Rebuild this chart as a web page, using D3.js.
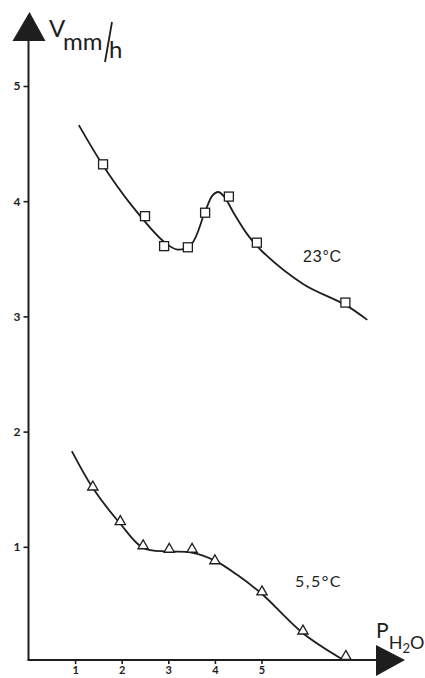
<!DOCTYPE html>
<html>
<head>
<meta charset="utf-8">
<script src="https://cdn.jsdelivr.net/npm/d3@7"></script>
<style>
  html, body { margin: 0; padding: 0; background: #fff; }
  svg { display: block; }
</style>
</head>
<body>
<svg id="chart" width="425" height="678"></svg>
<script>
// Tick values on both axes
const xTicks = [1, 2, 3, 4, 5];
const yTicks = [1, 2, 3, 4, 5];

// Measured growth rate at 23 °C (squares)
const warmX = [1.60, 2.50, 2.91, 3.42, 3.79, 4.30, 4.90, 6.80];
const warmY = [4.32, 3.87, 3.61, 3.60, 3.90, 4.04, 3.64, 3.12];
// Fitted curve for 23 °C
const warmFitX = [1.08, 1.60, 2.20, 2.90, 3.20, 3.50, 3.78, 3.95, 4.07, 4.20, 4.40, 4.70, 5.00, 5.90, 6.80, 7.27];
const warmFitY = [4.66, 4.31, 3.97, 3.65, 3.58, 3.63, 3.90, 4.05, 4.08, 4.04, 3.90, 3.71, 3.57, 3.28, 3.10, 2.97];

// Measured growth rate at 5,5 °C (triangles)
const coldX = [1.38, 1.97, 2.46, 3.02, 3.51, 4.00, 5.01, 5.89, 6.81];
const coldY = [1.51, 1.21, 1.00, 0.97, 0.97, 0.87, 0.60, 0.26, 0.04];
// Fitted curve for 5,5 °C
const coldFitX = [0.93, 1.38, 1.97, 2.46, 3.00, 3.50, 4.00, 4.50, 5.01, 5.89, 6.75];
const coldFitY = [1.83, 1.51, 1.20, 0.99, 0.96, 0.95, 0.88, 0.75, 0.59, 0.25, 0.02];

const ink = "#1e1e1e";
const font = "Lato, 'DejaVu Sans', sans-serif";
const svg = d3.select("#chart");

const x = d3.scaleLinear().domain([0, 8]).range([28.5, 28.5 + 8 * 46.6]);
const y = d3.scaleLinear().domain([0, 5]).range([662, 86]);

const x0 = x(0), y0 = y(0) - 2;

// Axis lines
svg.append("line").attr("x1", x0).attr("y1", y0).attr("x2", x0).attr("y2", 40)
  .attr("stroke", ink).attr("stroke-width", 2);
svg.append("line").attr("x1", x0 - 1).attr("y1", y0).attr("x2", 378).attr("y2", y0)
  .attr("stroke", ink).attr("stroke-width", 2);

// Arrow heads
svg.append("path").attr("d", `M${x0 - 16},41 L${x0 + 17},41 L${x0 + 1},12 Z`).attr("fill", ink);
svg.append("path").attr("d", `M376,645 L376,676 L405,${y0} Z`).attr("fill", ink);

// Y axis ticks
const yAxis = d3.axisLeft(y).tickValues(yTicks).tickSize(5).tickPadding(3).tickFormat(d3.format("d"));
const gy = svg.append("g").attr("transform", `translate(${x0},0)`).call(yAxis);
gy.select(".domain").remove();
gy.selectAll("line").attr("stroke", ink).attr("stroke-width", 1.6);
gy.selectAll("text").attr("fill", ink).attr("font-family", font)
  .attr("font-size", 12).attr("font-weight", "bold");

// X axis ticks
const xAxis = d3.axisBottom(x).tickValues(xTicks).tickSize(4).tickPadding(2).tickFormat(d3.format("d"));
const gx = svg.append("g").attr("transform", `translate(0,${y0})`).call(xAxis);
gx.select(".domain").remove();
gx.selectAll("line").attr("stroke", ink).attr("stroke-width", 1.6);
gx.selectAll("text").attr("fill", ink).attr("font-family", font)
  .attr("font-size", 11).attr("font-weight", "bold");

// Fitted curves
const line = d3.line().x(d => x(d[0])).y(d => y(d[1])).curve(d3.curveCatmullRom.alpha(0.5));
svg.append("path").datum(d3.zip(warmFitX, warmFitY)).attr("d", line)
  .attr("fill", "none").attr("stroke", ink).attr("stroke-width", 1.8);
svg.append("path").datum(d3.zip(coldFitX, coldFitY)).attr("d", line)
  .attr("fill", "none").attr("stroke", ink).attr("stroke-width", 1.8);

// Square markers
svg.append("g").selectAll("rect").data(d3.zip(warmX, warmY)).join("rect")
  .attr("x", d => x(d[0]) - 4.5).attr("y", d => y(d[1]) - 4.5)
  .attr("width", 9).attr("height", 9)
  .attr("fill", "#fff").attr("stroke", ink).attr("stroke-width", 1.3);

// Triangle markers
const tri = d3.symbol().type(d3.symbolTriangle).size(46);
svg.append("g").selectAll("path").data(d3.zip(coldX, coldY)).join("path")
  .attr("d", tri).attr("transform", d => `translate(${x(d[0])},${y(d[1]) - 1})`)
  .attr("fill", "#fff").attr("stroke", ink).attr("stroke-width", 1.3);

// Series labels
svg.append("text").attr("x", 303).attr("y", 262).attr("fill", ink)
  .attr("font-family", "'Liberation Sans', Arial, sans-serif").attr("font-size", 16)
  .attr("letter-spacing", 0.8).text("23°C");
svg.append("text").attr("x", 295).attr("y", 587).attr("fill", ink)
  .attr("font-family", font).attr("font-size", 16)
  .attr("letter-spacing", 1.5).text("5,5°C");

// Y axis title: V mm/h
const title = svg.append("g").attr("fill", ink).attr("font-family", font);
title.append("text").attr("x", 49).attr("y", 37).attr("font-size", 24).text("V");
title.append("text").attr("x", 63).attr("y", 50).attr("font-size", 24).text("mm");
title.append("line").attr("x1", 112).attr("y1", 22).attr("x2", 105).attr("y2", 62)
  .attr("stroke", ink).attr("stroke-width", 1.8);
title.append("text").attr("x", 109).attr("y", 58).attr("font-size", 24).text("h");

// X axis title: P H2O
const xt = svg.append("text").attr("fill", ink).attr("font-family", font)
  .attr("x", 376).attr("y", 638).attr("font-size", 21);
xt.append("tspan").text("P");
xt.append("tspan").attr("font-size", 18).attr("dy", 11).text("H");
xt.append("tspan").attr("font-size", 13).attr("dy", 4).text("2");
xt.append("tspan").attr("font-size", 18).attr("dy", -4).text("O");
</script>
</body>
</html>
